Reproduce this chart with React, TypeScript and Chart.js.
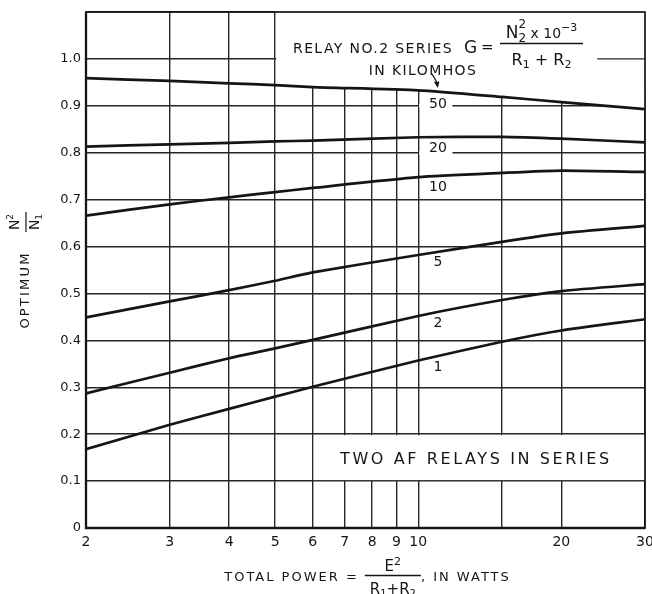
import React, { useEffect, useRef } from 'react';
import { Chart, registerables } from 'chart.js';

Chart.register(...registerables);

// ---- data ----
const powerWatts = [2, 3, 4, 5, 6, 10, 15, 20, 30];
const seriesNames = ['50', '20', '10', '5', '2', '1'];
const ratioG50 = [0.959, 0.953, 0.948, 0.944, 0.94, 0.933, 0.919, 0.908, 0.893];
const ratioG20 = [0.813, 0.818, 0.821, 0.824, 0.826, 0.833, 0.834, 0.83, 0.822];
const ratioG10 = [0.666, 0.69, 0.705, 0.716, 0.725, 0.748, 0.757, 0.762, 0.759];
const ratioG5 = [0.449, 0.483, 0.507, 0.527, 0.545, 0.582, 0.61, 0.628, 0.644];
const ratioG2 = [0.287, 0.331, 0.362, 0.383, 0.401, 0.452, 0.486, 0.505, 0.52];
const ratioG1 = [0.168, 0.22, 0.254, 0.28, 0.301, 0.357, 0.397, 0.421, 0.445];
const allSeries = [ratioG50, ratioG20, ratioG10, ratioG5, ratioG2, ratioG1];

const xGridValues = [2, 3, 4, 5, 6, 7, 8, 9, 10, 15, 20, 30];
const xTickLabels = ['2', '3', '4', '5', '6', '7', '8', '9', '10', '', '20', '30'];
const yGridValues = [0, 0.1, 0.2, 0.3, 0.4, 0.5, 0.6, 0.7, 0.8, 0.9, 1.0, 1.1];
const yTickLabels = ['0', '0.1', '0.2', '0.3', '0.4', '0.5', '0.6', '0.7', '0.8', '0.9', '1.0', ''];

const curveLabelX = 11;
const curveLabelY = [0.904, 0.81, 0.727, 0.567, 0.437, 0.343];

const FONT = '"DejaVu Sans", sans-serif';
const INK = '#151515';
const GRID = '#262626';

type Part = { t: string; size: number; dy?: number; ls?: number; noAdv?: boolean };

function seq(ctx: CanvasRenderingContext2D, x: number, y: number, parts: Part[], draw = true): number {
  let cx = x;
  for (const p of parts) {
    ctx.font = `${p.size}px ${FONT}`;
    (ctx as any).letterSpacing = `${p.ls ?? 0}px`;
    const w = ctx.measureText(p.t).width;
    if (draw) ctx.fillText(p.t, cx, y + (p.dy ?? 0));
    if (!p.noAdv) cx += w;
  }
  (ctx as any).letterSpacing = '0px';
  return cx - x;
}

function seqCentered(ctx: CanvasRenderingContext2D, cx: number, y: number, parts: Part[]) {
  const w = seq(ctx, 0, 0, parts, false);
  seq(ctx, cx - w / 2, y, parts, true);
}

const decorPlugin = {
  id: 'decor',
  beforeDatasetsDraw(chart: any) {
    const ctx: CanvasRenderingContext2D = chart.ctx;
    const { left, right, top, bottom } = chart.chartArea;
    const xs = chart.scales.x;
    const ys = chart.scales.y;
    const x5 = xs.getPixelForValue(5);
    // blank region above the top curve (annotation area)
    const meta = chart.getDatasetMeta(0);
    const line: any = meta.dataset;
    ctx.save();
    ctx.beginPath();
    ctx.rect(x5 + 1, top - 2, right - x5 + 2, bottom - top);
    ctx.clip();
    ctx.beginPath();
    let ok = false;
    try {
      if (line.updateControlPoints) line.updateControlPoints(chart.chartArea, 'x');
      line.path(ctx);
      ok = true;
    } catch (e) {
      ok = false;
    }
    if (!ok) {
      ctx.beginPath();
      meta.data.forEach((p: any, i: number) => (i ? ctx.lineTo(p.x, p.y) : ctx.moveTo(p.x, p.y)));
    }
    ctx.lineTo(right + 3, top - 3);
    ctx.lineTo(left, top - 3);
    ctx.closePath();
    ctx.fillStyle = '#fff';
    ctx.fill();
    ctx.restore();

    // short piece of the 1.0 line at the right
    ctx.save();
    ctx.strokeStyle = GRID;
    ctx.lineWidth = 1.4;
    ctx.beginPath();
    const y10 = ys.getPixelForValue(1.0);
    ctx.moveTo(xs.getPixelForValue(23.8), y10);
    ctx.lineTo(right, y10);
    ctx.stroke();
    ctx.restore();

    // box for "TWO AF RELAYS IN SERIES"
    const x6 = xs.getPixelForValue(6);
    const yA = ys.getPixelForValue(0.2);
    const yB = ys.getPixelForValue(0.1);
    ctx.fillStyle = '#fff';
    ctx.fillRect(x6 + 1, yA + 1, right - x6 - 1, yB - yA - 2);

    // gaps in grid lines behind labels 50 and 20
    const x10 = xs.getPixelForValue(10);
    const xEnd = xs.getPixelForValue(11.8);
    for (const v of [0.9, 0.8]) {
      const yy = ys.getPixelForValue(v);
      ctx.fillRect(x10 + 1, yy - 2, xEnd - x10 - 1, 4);
    }
  },
  afterDatasetsDraw(chart: any) {
    const ctx: CanvasRenderingContext2D = chart.ctx;
    const { left, right, top, bottom } = chart.chartArea;
    const xs = chart.scales.x;
    const ys = chart.scales.y;
    ctx.save();
    // frame
    ctx.strokeStyle = INK;
    ctx.lineWidth = 1.7;
    ctx.strokeRect(left, top, right - left, bottom - top);
    ctx.lineWidth = 2.3;
    ctx.beginPath();
    ctx.moveTo(left, top);
    ctx.lineTo(left, bottom);
    ctx.lineTo(right, bottom);
    ctx.stroke();

    ctx.fillStyle = INK;
    ctx.textBaseline = 'middle';
    ctx.textAlign = 'center';
    // curve labels
    ctx.font = `14px ${FONT}`;
    seriesNames.forEach((n, i) => {
      ctx.fillText(n, xs.getPixelForValue(curveLabelX), ys.getPixelForValue(curveLabelY[i]));
    });

    // box text
    const x6 = xs.getPixelForValue(6);
    const yMid = (ys.getPixelForValue(0.2) + ys.getPixelForValue(0.1)) / 2;
    ctx.textAlign = 'left';
    ctx.textBaseline = 'alphabetic';
    seqCentered(ctx, (x6 + right) / 2 - 3, yMid + 6, [{ t: 'TWO AF RELAYS IN SERIES', size: 16, ls: 2.6 }]);

    // top annotation
    seq(ctx, 293, 53, [{ t: 'RELAY NO.2 SERIES', size: 14, ls: 1.4 }]);
    seq(ctx, 464, 53, [{ t: 'G', size: 17 }]);
    seq(ctx, 481, 52, [{ t: '=', size: 15 }]);
    const fL = 500;
    const fR = 583;
    ctx.lineWidth = 1.3;
    ctx.beginPath();
    ctx.moveTo(fL, 43.5);
    ctx.lineTo(fR, 43.5);
    ctx.stroke();
    seqCentered(ctx, (fL + fR) / 2, 38, [
      { t: 'N', size: 17 },
      { t: '2', size: 12, dy: -10, noAdv: true },
      { t: '2', size: 12, dy: 4 },
      { t: ' x 10', size: 14 },
      { t: '\u22123', size: 11, dy: -7 },
    ]);
    seqCentered(ctx, (fL + fR) / 2, 65, [
      { t: 'R', size: 16 },
      { t: '1', size: 11, dy: 3 },
      { t: ' + ', size: 16 },
      { t: 'R', size: 16 },
      { t: '2', size: 11, dy: 3 },
    ]);
    seqCentered(ctx, 423, 75, [{ t: 'IN KILOMHOS', size: 14, ls: 1.4 }]);
    // arrow to the top curve
    const tipX = xs.getPixelForValue(11);
    const tipY = ys.getPixelForValue(0.936) - 1;
    ctx.lineWidth = 1.2;
    ctx.beginPath();
    ctx.moveTo(tipX - 6, tipY - 14);
    ctx.quadraticCurveTo(tipX - 2, tipY - 8, tipX, tipY - 3);
    ctx.stroke();
    ctx.beginPath();
    ctx.moveTo(tipX, tipY);
    ctx.lineTo(tipX - 4, tipY - 6);
    ctx.lineTo(tipX + 1.5, tipY - 6.5);
    ctx.closePath();
    ctx.fill();
    ctx.restore();
  },
  afterDraw(chart: any) {
    const ctx: CanvasRenderingContext2D = chart.ctx;
    const { left, right } = chart.chartArea;
    ctx.save();
    ctx.fillStyle = INK;
    ctx.strokeStyle = INK;
    ctx.textAlign = 'left';
    ctx.textBaseline = 'alphabetic';
    // x title
    const p1: Part[] = [{ t: 'TOTAL POWER =', size: 13, ls: 2 }];
    const p2: Part[] = [{ t: ', IN WATTS', size: 13, ls: 2 }];
    const num: Part[] = [{ t: 'E', size: 15 }, { t: '2', size: 11, dy: -6 }];
    const den: Part[] = [
      { t: 'R', size: 15 },
      { t: '1', size: 10, dy: 3 },
      { t: '+', size: 15 },
      { t: 'R', size: 15 },
      { t: '2', size: 10, dy: 3 },
    ];
    const w1 = seq(ctx, 0, 0, p1, false);
    const wn = seq(ctx, 0, 0, num, false);
    const wd = seq(ctx, 0, 0, den, false);
    const w2 = seq(ctx, 0, 0, p2, false);
    const fw = Math.max(wn, wd) + 10;
    const gap = 6;
    const total = w1 + gap + fw + w2;
    const cx = (left + right) / 2 + 2;
    let x = cx - total / 2;
    seq(ctx, x, 581, p1);
    x += w1 + gap;
    ctx.lineWidth = 1.3;
    ctx.beginPath();
    ctx.moveTo(x, 575.5);
    ctx.lineTo(x + fw, 575.5);
    ctx.stroke();
    seq(ctx, x + (fw - wn) / 2, 571, num);
    seq(ctx, x + (fw - wd) / 2, 594, den);
    x += fw;
    seq(ctx, x, 581, p2);

    // y title (rotated)
    ctx.translate(26, 290);
    ctx.rotate(-Math.PI / 2);
    ctx.textBaseline = 'middle';
    seqCentered(ctx, 0, 0, [{ t: 'OPTIMUM', size: 13, ls: 2.2 }]);
    ctx.textBaseline = 'alphabetic';
    const fu = 68;
    ctx.lineWidth = 1.2;
    ctx.beginPath();
    ctx.moveTo(fu - 10, 0);
    ctx.lineTo(fu + 10, 0);
    ctx.stroke();
    seqCentered(ctx, fu, -7, [{ t: 'N', size: 14 }, { t: '2', size: 9, dy: -6 }]);
    seqCentered(ctx, fu, 13, [{ t: 'N', size: 14 }, { t: '1', size: 9, dy: 3 }]);
    ctx.restore();
  },
};

export default function App() {
  const ref = useRef<HTMLCanvasElement | null>(null);
  useEffect(() => {
    if (!ref.current) return;
    const chart = new Chart(ref.current, {
      type: 'line',
      data: {
        datasets: allSeries.map((vals, i) => ({
          label: seriesNames[i],
          data: powerWatts.map((x, j) => ({ x, y: vals[j] })),
          borderColor: INK,
          borderWidth: 2.7,
          pointRadius: 0,
          fill: false,
          tension: 0.2,
        })),
      },
      options: {
        responsive: false,
        animation: false,
        devicePixelRatio: 1,
        layout: { padding: { top: 12, right: 7, left: 0, bottom: 0 } },
        plugins: { legend: { display: false }, tooltip: { enabled: false } },
        scales: {
          x: {
            type: 'logarithmic',
            min: 2,
            max: 30,
            afterBuildTicks: (scale: any) => {
              scale.ticks = xGridValues.map((v) => ({ value: v }));
            },
            afterFit: (scale: any) => {
              scale.height = 66;
              scale.paddingLeft = 0;
              scale.paddingRight = 0;
            },
            grid: { color: GRID, lineWidth: 1.4, drawTicks: false },
            border: { display: false },
            ticks: {
              autoSkip: false,
              maxRotation: 0,
              padding: 6,
              color: INK,
              font: { family: FONT, size: 14 },
              callback: (_v: any, i: number) => xTickLabels[i],
            },
          },
          y: {
            type: 'linear',
            min: 0,
            max: 1.1,
            afterBuildTicks: (scale: any) => {
              scale.ticks = yGridValues.map((v) => ({ value: v }));
            },
            afterFit: (scale: any) => {
              scale.width = 86;
              scale.paddingTop = 0;
              scale.paddingBottom = 0;
            },
            grid: { color: GRID, lineWidth: 1.4, drawTicks: false },
            border: { display: false },
            ticks: {
              padding: 5,
              color: INK,
              font: { family: FONT, size: 13 },
              callback: (_v: any, i: number) => yTickLabels[i],
            },
          },
        },
      },
      plugins: [decorPlugin],
    });
    return () => chart.destroy();
  }, []);
  return (
    <div style={{ position: 'absolute', left: 0, top: 0, width: 652, height: 594, background: '#fff' }}>
      <canvas ref={ref} width={652} height={594} />
    </div>
  );
}
